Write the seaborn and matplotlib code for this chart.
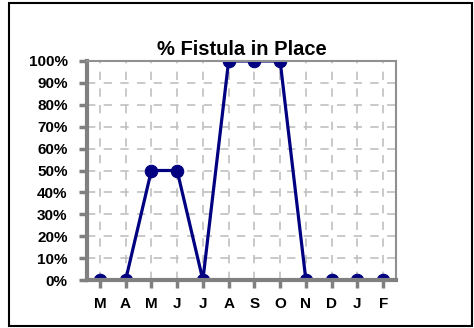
import numpy as np
import pandas as pd
import matplotlib
matplotlib.use("Agg")
import matplotlib.pyplot as plt
import seaborn as sns
from matplotlib.patches import Rectangle

months = ["M", "A", "M", "J", "J", "A", "S", "O", "N", "D", "J", "F"]
pct_in_place = [0, 0, 50, 50, 0, 100, 100, 100, 0, 0, 0, 0]

df = pd.DataFrame({"pos": np.arange(len(months)), "pct": pct_in_place})

sns.set_style("white")
plt.rcParams["font.family"] = ["Liberation Sans", "DejaVu Sans"]
plt.rcParams["text.color"] = "black"
plt.rcParams["xtick.labelcolor"] = "black"
plt.rcParams["ytick.labelcolor"] = "black"

fig = plt.figure(figsize=(4.74, 3.28), dpi=100)
ax = fig.add_axes([87 / 474, 1 - 280 / 328, 309 / 474, 219 / 328])

# outer frame
fig.patches.append(Rectangle((9 / 474, 2 / 328), 463 / 474, 323 / 328,
                             transform=fig.transFigure, fill=False,
                             edgecolor="black", linewidth=1.5))

sns.lineplot(data=df, x="pos", y="pct", ax=ax, color="#000080", linewidth=2.3,
             marker="o", markersize=9, markeredgecolor="#000080", zorder=3)
for ln in ax.lines:
    ln.set_clip_on(True)

ax.set_xlim(-0.5, 11.5)
ax.set_ylim(0, 100)
ax.set_xticks(df["pos"])
ax.set_xticklabels(months)
ax.set_yticks(range(0, 101, 10))
ax.set_yticklabels([f"{v}%" for v in range(0, 101, 10)])

ax.grid(True, color="#c0c0c0", linestyle=(0, (5, 5)), linewidth=1.2)
ax.set_axisbelow(True)

for s in ax.spines.values():
    s.set_color("#909090")
    s.set_linewidth(1.5)
    s.set_zorder(4)
ax.spines["left"].set_color("#808080")
ax.spines["bottom"].set_color("#808080")
ax.spines["left"].set_linewidth(3)
ax.spines["bottom"].set_linewidth(3)

ax.tick_params(axis="both", direction="out", length=6, width=2.5,
               color="#808080", labelsize=11, labelcolor="black")
ax.tick_params(axis="y", pad=8)
ax.tick_params(axis="x", pad=6)
ax.tick_params(left=True, bottom=True)
for lab in ax.get_xticklabels() + ax.get_yticklabels():
    lab.set_fontweight("bold")

ax.set_xlabel("")
ax.set_ylabel("")
ax.set_title("% Fistula in Place", fontsize=14.5, fontweight="bold", pad=4,
             color="black")

fig.savefig("out.png", dpi=100)
